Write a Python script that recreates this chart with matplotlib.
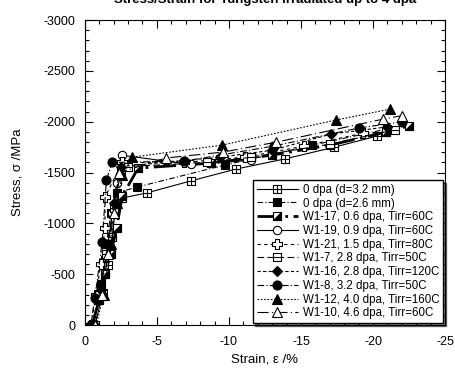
import matplotlib
matplotlib.use('Agg')
import matplotlib.pyplot as plt
from matplotlib.path import Path
from matplotlib.ticker import MultipleLocator

plt.rcParams['font.family'] = ['Liberation Sans', 'DejaVu Sans']
plt.rcParams['axes.unicode_minus'] = False

# --- data (strain %, stress MPa) ---
labels = ['0 dpa (d=3.2 mm)', '0 dpa (d=2.6 mm)', 'W1-17, 0.6 dpa, Tirr=60C',
          'W1-19, 0.9 dpa, Tirr=60C', 'W1-21, 1.5 dpa, Tirr=80C', 'W1-7, 2.8 dpa, Tirr=50C',
          'W1-16, 2.8 dpa, Tirr=120C', 'W1-8, 3.2 dpa, Tirr=50C', 'W1-12, 4.0 dpa, Tirr=160C',
          'W1-10, 4.6 dpa, Tirr=60C']

x_s1 = [-0.7, -1.25, -1.6, -1.9, -2.1, -2.6, -4.3, -7.4, -10.5, -13.9, -17.3, -20.3]
y_s1 = [0, -315, -590, -870, -1130, -1250, -1300, -1420, -1535, -1635, -1750, -1860]
x_s2 = [-0.6, -1.1, -1.5, -1.8, -2.2, -3.6, -9.7, -15.8, -21.0]
y_s2 = [0, -400, -800, -1100, -1300, -1357, -1574, -1770, -1930]
x_s3 = [-0.5, -1.0, -1.4, -1.8, -2.2, -2.6, -3.7, -8.75, -13.0, -17.0, -20.9, -22.5]
y_s3 = [0, -250, -500, -700, -954, -1269, -1544, -1593, -1672, -1770, -1898, -1960]
x_s4 = [-0.6, -1.0, -1.5, -1.9, -2.2, -2.6, -7.4, -11.5]
y_s4 = [0, -300, -700, -1100, -1400, -1670, -1580, -1620]
x_s5 = [-0.4, -0.8, -1.1, -1.4, -1.4, -2.6, -6.9, -11.1, -15.2, -19.3]
y_s5 = [0, -300, -600, -954, -1259, -1600, -1600, -1652, -1760, -1888]
x_s6 = [-0.5, -1.0, -1.5, -2.0, -2.5, -3.0, -8.5, -11.5, -17.0, -21.5]
y_s6 = [0, -300, -700, -1150, -1500, -1560, -1600, -1650, -1780, -1920]
x_s7 = [-0.6, -1.1, -1.6, -2.0, -2.5, -9.4, -13.0, -17.1, -21.0]
y_s7 = [0, -350, -800, -1200, -1560, -1652, -1720, -1879, -1950]
x_s8 = [-0.4, -0.7, -1.2, -1.5, -1.9, -6.9, -13.1, -19.0, -22.0]
y_s8 = [0, -266, -816, -1426, -1600, -1613, -1761, -1938, -2000]
x_s9 = [-0.8, -1.3, -1.8, -2.2, -2.6, -3.3, -9.5, -17.4, -21.2]
y_s9 = [0, -300, -800, -1200, -1475, -1652, -1770, -2016, -2125]
x_s10 = [-0.7, -1.2, -1.6, -2.0, -2.4, -5.6, -9.6, -13.3, -20.7, -22.0]
y_s10 = [0, -300, -700, -1100, -1500, -1643, -1702, -1800, -2026, -2060]

xs = [x_s1, x_s2, x_s3, x_s4, x_s5, x_s6, x_s7, x_s8, x_s9, x_s10]
ys = [y_s1, y_s2, y_s3, y_s4, y_s5, y_s6, y_s7, y_s8, y_s9, y_s10]

# --- custom markers ---
M, L, C = Path.MOVETO, Path.LINETO, Path.CLOSEPOLY
sq_v = [(-1, -1), (1, -1), (1, 1), (-1, 1), (-1, -1)]
sq_c = [M, L, L, L, C]
grid_sq = Path(sq_v + [(0, -1), (0, 1), (-1, 0), (1, 0)], sq_c + [M, L, M, L])
hline_sq = Path(sq_v + [(-1, 0), (1, 0)], sq_c + [M, L])
w = 0.38
plus_o = Path([(-w, -1), (w, -1), (w, -w), (1, -w), (1, w), (w, w), (w, 1), (-w, 1),
               (-w, w), (-1, w), (-1, -w), (-w, -w), (-w, -1)], [M] + [L] * 11 + [C])
tri_lr = Path([(-1, -1), (1, -1), (1, 1), (-1, -1)], [M, L, L, C])

styles = [
    dict(marker=grid_sq, ls='-', lw=0.8, mfc='white'),
    dict(marker='s', ls=(0, (5, 2, 1, 2)), lw=0.8, mfc='black'),
    dict(marker='s', ls=(0, (8, 2, 1, 2)), lw=2.0, mfc='white'),
    dict(marker='o', ls='-', lw=0.8, mfc='white'),
    dict(marker=plus_o, ls=(0, (3, 3)), lw=0.8, mfc='white'),
    dict(marker=hline_sq, ls=(0, (6, 3)), lw=0.8, mfc='white'),
    dict(marker='D', ls=(0, (3, 2)), lw=0.8, mfc='black'),
    dict(marker='o', ls=(0, (6, 2, 1, 2)), lw=0.8, mfc='black'),
    dict(marker='^', ls=(0, (1.5, 1.5)), lw=0.8, mfc='black'),
    dict(marker='^', ls=(0, (10, 3, 1, 3)), lw=0.8, mfc='white'),
]
sizes = [6, 6, 6, 6, 7, 6, 5, 6.5, 6.5, 6.5]

fig = plt.figure(figsize=(4.56, 3.72), dpi=100)
ax = fig.add_axes([0.186, 0.126, 0.79, 0.82])

handles = []
for i in range(10):
    st = styles[i]
    ln, = ax.plot(xs[i], ys[i], color='black', linestyle=st['ls'], linewidth=st['lw'],
                  marker=st['marker'], markersize=sizes[i], markerfacecolor=st['mfc'],
                  markeredgecolor='black', markeredgewidth=0.8)
    if i == 2:
        tr, = ax.plot(xs[i], ys[i], linestyle='none', marker=tri_lr, markersize=sizes[i],
                      markerfacecolor='black', markeredgecolor='black', markeredgewidth=0.8)
        handles.append((ln, tr))
    else:
        handles.append(ln)

ax.set_xlim(0, -25)
ax.set_ylim(0, -3000)
ax.xaxis.set_major_locator(MultipleLocator(5))
ax.xaxis.set_minor_locator(MultipleLocator(1))
ax.yaxis.set_major_locator(MultipleLocator(500))
ax.yaxis.set_minor_locator(MultipleLocator(100))
ax.tick_params(which='both', direction='in', top=True, right=True, labelsize=9)
ax.tick_params(which='major', length=6, width=0.8)
ax.tick_params(which='minor', length=3, width=0.8)
ax.tick_params(axis='x', pad=8)
ax.tick_params(axis='y', pad=7)

ax.set_xlabel('Strain, ε /%', fontsize=9.5, labelpad=4)
ax.set_ylabel('Stress, σ /MPa', fontsize=9.5, labelpad=14)
ax.set_title('Stress/Strain for Tungsten irradiated up to 4 dpa', fontsize=9.5,
             fontweight='bold', pad=12)

leg = ax.legend(handles, labels, loc='lower right', fontsize=8.3, frameon=True,
                fancybox=False, shadow={'color': 'black'}, edgecolor='black',
                framealpha=1, borderaxespad=0.15, handlelength=3.6, labelspacing=0.15,
                borderpad=0.35, handletextpad=0.4)
leg.get_frame().set_linewidth(1.0)

fig.savefig('out.png', dpi=100)
